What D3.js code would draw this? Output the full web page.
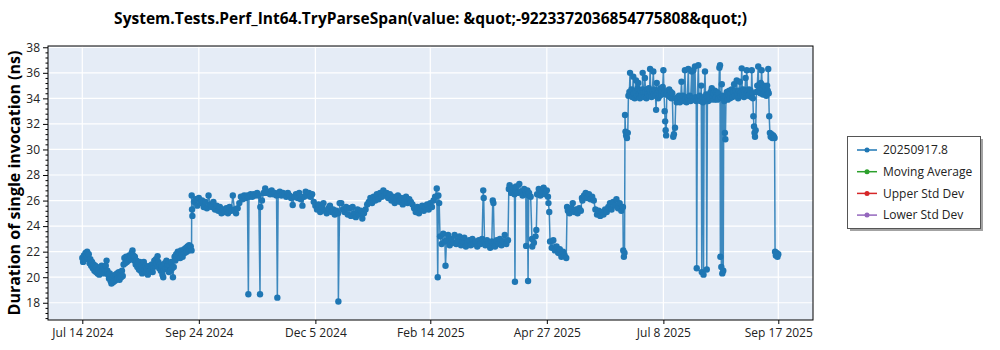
<!DOCTYPE html>
<html><head><meta charset="utf-8">
<script src="https://cdn.jsdelivr.net/npm/d3@7"></script>
<style>body{margin:0;background:#fff} svg{display:block;font-family:"Open Sans","Noto Sans",sans-serif}</style>
</head><body><svg id="c" width="1000" height="350"></svg>
<script>
const chartTitle = "System.Tests.Perf_Int64.TryParseSpan(value: &quot;-9223372036854775808&quot;)";
const yAxisTitle = "Duration of single invocation (ns)";
const baseDate = "2024-07-14";
// run dates as day offsets from baseDate, and measured durations (ns)
const dayOffsets = [
0,0.5,1,1.5,2,2.5,3,3.5,4,4.5,5,5.5,6,6.5,7,7.5,8,8.5,9,9.5,10,10.5,11,11.5,12,12.5,13,13.5,14,14.5,15,15.5,16,16.5,17,17.5,18,18.5,19,19.5,20,20.5,21,21.5,22,22.5,23,23.5,24,24.5,25,25.5,26,26.5,27,27.5,28,28.5,29,29.5,30,30.5,31,31.5,32,32.5,33,33.5,34,34.5,35,35.5,36,36.5,37,37.5,38,38.5,39,39.5,40,40.5,41,41.5,42,42.5,43,43.5,44,44.5,45,45.5,46,46.5,47,47.5,48,48.5,49,49.5,50,50.5,51,51.5,52,52.5,53,53.5,54,54.5,55,55.5,56,56.5,57,57.5,58,58.5,59,59.5,60,60.5,61,61.5,62,62.5,63,63.5,64,64.5,65,65.5,66,66.5,67,67.5,
67.6,67.8,68,69,70,71,72,73,74,75,76,77,78,79,80,81,82,83,84,85,86,87,88,89,90,91,92,93,94,95,96,97,98,99,100,101,102,102.6,103,104,105,106,107,108,109,109.8,110,111,112,113,114,115,116,117,118,119,120,120.5,121,122,123,124,125,126,127,128,129,130,131,132,133,134,135,136,137,138,139,140,141,142,143,144,145,146,147,148,149,150,151,152,153,154,155,156,157,158,158.2,159,160,161,162,163,164,165,166,167,168,169,170,171,172,173,174,175,176,177,178,179,180,181,182,183,184,185,186,187,188,189,190,191,192,193,194,195,196,197,198,199,200,201,202,203,204,205,206,207,208,209,210,211,212,213,214,215,216,217,218,219,219.6,220,220.5,
221,222,223,224,224.4,225,226,227,228,229,230,231,232,233,234,235,236,237,238,239,240,241,242,243,244,245,246,247,247.7,248,248.5,249,250,251,252,253,253.6,254,254.5,255,256,257,258,259,260,261,262,263,
263.5,264,265,266,267,267.3,267.6,268,269,270,271,272,273,274,274.2,274.6,275,275.4,275.8,276,277,277.8,278,279,280,280.5,281,282,283,284,285,286,287,287.7,288,288.5,289,290,291,292,293,294,295,296,297,298,299,299.5,300,301,302,303,304,305,306,307,308,308.7,309,310,311,312,313,314,315,316,317,318,319,320,321,322,323,324,325,326,327,328,329,330,331,332,333,334,334.2,334.6,335,335.3,335.6,336,336.5,337,
337.4,338,338.4,338.8,339.3,339.8,340.4,340.8,341.3,341.8,342.1,342.6,343.1,343.5,344,344.5,345,345.5,346,346.2,346.6,347.1,347.6,348,348.5,349,349.5,350,350.4,350.8,351.2,351.7,352.2,352.8,353.2,353.7,354.1,354.5,354.9,355.3,355.8,356.3,356.8,357.3,357.8,358.2,358.6,359,359.4,359.8,360.1,360.4,360.7,361.1,361.6,362.1,362.6,363.1,363.6,364,364.5,365.1,365.5,366.2,366.7,367.2,367.7,368.2,368.7,369.2,369.7,370.2,370.6,371.1,371.6,372.3,372.8,373.3,373.8,374.4,374.8,375.3,375.8,376.5,376.9,377.5,377.9,378.5,378.9,379.3,379.6,380,380.6,381,381.5,382,382.4,382.7,383.1,383.5,383.8,384.2,384.7,385.1,385.5,385.8,386.2,386.7,387.2,387.7,388.2,388.9,389.3,389.8,390.3,390.8,391.3,391.8,392.3,392.8,393.2,393.6,394,394.2,394.5,394.8,395.1,395.4,395.7,396,396.3,396.6,397,397.3,397.7,398.2,398.7,399.2,399.7,400.2,400.7,401.2,401.7,402.2,402.7,403.2,403.7,404.3,404.7,405.2,405.7,406.2,406.6,407,407.4,407.8,408.3,408.8,409.3,409.8,410.2,410.5,410.9,411.4,411.9,412.4,412.9,413.3,413.6,414,414.3,414.6,415,415.3,415.6,416,416.5,417,417.6,418,418.5,419,419.3,419.7,420.1,420.6,421.1,421.6,422.1,422.6,423.1,423.5,423.8,424.1,424.4,424.8,425.3,425.8,426.3,426.8,427.3,427.7,428,428.5,429,429.5,430
];
const durations = [
21.5,21.2,21.7,21.4,21.9,21.6,22.0,21.5,21.8,21.1,21.4,20.9,21.2,20.7,21.0,20.5,20.9,20.4,20.8,20.3,20.6,20.2,20.7,20.4,20.9,20.5,20.8,20.3,20.6,20.9,21.3,20.5,20.2,19.9,20.3,19.7,19.5,19.9,19.6,20.1,19.7,20.2,19.8,20.3,19.9,20.4,19.8,20.2,20.0,20.5,20.1,21.0,21.5,21.1,21.6,21.2,21.5,21.3,21.7,21.4,21.6,21.9,22.1,21.7,21.3,21.6,21.0,21.3,20.8,21.1,20.6,21.2,20.5,20.9,20.3,20.7,21.2,20.6,20.9,20.4,20.7,20.2,20.8,20.5,20.9,20.6,21.0,20.4,20.8,21.3,20.9,21.4,21.1,21.65,21.2,20.7,21.0,20.5,20.8,20.2,20.0,20.6,21.1,20.7,21.3,20.8,21.0,20.4,20.9,20.5,21.2,20.7,20.0,20.8,21.6,21.3,21.8,21.5,22.0,21.7,21.9,21.5,22.1,21.8,21.6,22.0,22.2,21.9,22.3,22.0,22.4,22.1,22.5,22.2,22.4,22.1,
26.4,25.3,24.8,25.9,26.1,25.6,26.2,25.8,26.0,25.5,25.9,25.4,26.4,25.7,25.5,25.9,25.3,25.6,25.2,25.5,25.0,25.3,25.1,25.4,25.0,25.5,25.2,26.4,25.3,25.0,25.4,25.8,26.3,26.1,26.4,26.2,26.4,18.66,26.3,26.5,26.3,26.5,26.4,26.6,26.4,18.66,25.5,26.0,26.6,26.95,26.6,26.7,26.5,26.8,26.5,26.6,26.4,18.4,26.5,26.7,26.4,26.6,26.5,26.3,26.6,26.4,26.2,25.65,26.3,26.5,26.2,26.6,26.1,25.6,26.3,26.7,26.4,26.6,26.3,26.5,25.9,25.6,25.3,25.7,25.1,25.5,25.8,25.2,25.0,25.4,25.6,25.1,25.3,24.9,25.2,25.0,18.1,25.8,25.8,25.3,25.1,25.5,24.9,25.4,24.8,25.5,25.0,24.7,25.3,24.9,25.2,24.6,25.0,25.3,25.7,25.9,26.2,25.8,26.3,26.0,26.5,26.1,26.6,26.3,26.8,26.4,26.6,26.2,26.5,26.0,26.3,25.8,26.1,26.4,25.9,26.2,25.7,26.0,26.3,25.8,26.1,25.9,25.7,25.4,25.1,25.5,25.0,25.3,25.6,25.2,25.5,25.7,25.3,25.8,25.5,26.0,26.3,26.95,20.0,26.4,25.8,
23.2,22.6,23.4,22.8,20.9,22.9,23.3,22.5,23.0,22.7,23.3,22.6,22.9,23.2,22.5,22.8,23.1,22.4,22.7,22.9,22.5,23.0,22.6,22.8,22.4,22.9,22.6,23.0,26.8,26.2,22.8,22.5,22.9,22.6,22.3,22.8,26.0,25.8,22.7,22.4,22.9,22.6,23.0,22.5,22.8,23.3,22.6,22.9,
26.9,27.2,26.6,27.0,26.5,19.65,26.8,27.1,26.6,27.3,26.7,26.4,26.9,26.6,22.45,26.5,26.8,19.7,26.4,26.6,26.3,23.0,22.4,22.7,23.2,23.7,26.5,26.9,26.4,26.7,27.0,26.5,26.8,26.3,25.8,25.1,22.8,22.3,22.9,22.1,22.4,21.9,22.2,21.6,22.0,21.7,21.5,25.5,25.2,25.0,25.4,25.8,25.1,25.3,25.0,25.4,25.2,26.2,26.0,26.4,26.6,26.2,26.5,26.1,26.3,26.0,25.3,24.9,25.2,24.8,25.1,24.9,25.3,25.1,25.5,25.8,25.3,25.9,25.6,26.1,25.4,25.8,25.2,25.5,22.1,21.6,21.9,32.7,31.4,31.1,30.9,31.3,
34.2,34.5,36.0,34.3,34.7,34.1,35.7,34.4,34.0,34.6,35.4,34.2,34.8,35.2,34.3,34.0,34.6,34.2,34.7,36.0,34.4,34.1,35.6,34.5,34.0,34.7,34.3,34.8,34.2,36.3,34.5,34.1,34.6,36.1,34.3,34.7,34.2,33.1,35.2,34.4,34.0,34.6,34.2,34.8,34.3,34.6,34.9,36.2,34.4,33.0,32.2,31.5,31.1,34.3,34.6,34.2,34.7,34.1,34.5,34.0,34.4,31.0,31.2,31.7,34.0,33.7,34.1,33.8,34.2,33.7,34.0,35.3,33.9,34.2,33.8,36.2,34.0,33.7,34.1,36.3,33.9,34.2,33.8,36.1,34.0,36.2,33.9,36.5,34.1,33.8,20.7,34.0,36.6,33.9,34.2,33.8,35.0,20.4,34.0,33.7,20.2,34.1,36.1,33.9,34.3,20.6,34.0,33.8,34.3,33.9,34.5,34.8,34.0,34.4,33.9,34.6,34.1,34.5,33.9,34.4,34.0,36.4,36.6,21.6,34.1,20.8,35.1,20.3,34.2,20.5,34.0,33.8,31.3,30.8,34.1,34.5,33.9,34.3,34.6,34.0,34.4,34.7,34.1,34.5,35.1,34.2,34.6,35.4,34.3,34.0,34.6,35.3,34.2,34.5,36.35,34.3,34.7,34.1,34.5,35.6,34.3,36.2,34.6,34.2,34.7,34.3,34.6,34.1,36.2,34.4,34.0,32.6,31.8,31.3,31.0,31.5,34.5,35.0,36.5,34.6,35.1,34.4,35.2,36.2,34.8,34.3,35.0,34.5,34.9,34.2,35.0,34.6,36.3,34.4,32.6,31.3,31.0,31.2,30.9,31.1,31.0,30.9,22.0,21.7,21.9,21.6,21.8
];
const xTickDates = ["2024-07-14","2024-09-24","2024-12-05","2025-02-14","2025-04-27","2025-07-08","2025-09-17"];
const xTickLabels = ["Jul 14 2024","Sep 24 2024","Dec 5 2024","Feb 14 2025","Apr 27 2025","Jul 8 2025","Sep 17 2025"];
const yTickValues = [18,20,22,24,26,28,30,32,34,36,38];
const legendLabels = ["20250917.8","Moving Average","Upper Std Dev","Lower Std Dev"];
const legendColors = ["#1f77b4","#2ca02c","#d62728","#9467bd"];

const DAY = 86400000;
const base = Date.parse(baseDate + "T00:00:00Z");
const pts = dayOffsets.map((d, i) => ({t: new Date(base + d * DAY), v: durations[i]}));

const svg = d3.select("#c");
const L = 48, R = 813, T = 46, B = 320;

const x0 = new Date(Date.parse("2024-07-14T00:00:00Z")), x1 = new Date(Date.parse("2025-09-17T00:00:00Z"));
const xs0 = d3.scaleUtc().domain([x0, x1]).range([82.3, 778.3]);
const x = d3.scaleUtc().domain([xs0.invert(L), xs0.invert(R)]).range([L, R]);
const y = d3.scaleLinear().domain([16.65, 38.1]).range([B, T]);

svg.append("rect").attr("x", L).attr("y", T).attr("width", R - L).attr("height", B - T).attr("fill", "#e5ecf6");

const xTicks = xTickDates.map(s => new Date(Date.parse(s + "T00:00:00Z")));
const g = svg.append("g");
g.selectAll(".vg").data(xTicks).join("line")
  .attr("x1", d => x(d)).attr("x2", d => x(d)).attr("y1", T).attr("y2", B)
  .attr("stroke", "#fff").attr("stroke-width", 1.2);
g.selectAll(".hg").data(yTickValues).join("line")
  .attr("x1", L).attr("x2", R).attr("y1", d => y(d)).attr("y2", d => y(d))
  .attr("stroke", "#fff").attr("stroke-width", 1.2);

svg.append("clipPath").attr("id", "clip").append("rect")
  .attr("x", L).attr("y", T).attr("width", R - L).attr("height", B - T);
const plot = svg.append("g").attr("clip-path", "url(#clip)");
plot.append("path").datum(pts)
  .attr("d", d3.line().x(d => x(d.t)).y(d => y(d.v)))
  .attr("fill", "none").attr("stroke", "#1f77b4").attr("stroke-opacity", 0.85).attr("stroke-width", 1.5);
plot.selectAll("circle").data(pts).join("circle")
  .attr("cx", d => x(d.t)).attr("cy", d => y(d.v)).attr("r", 3.2).attr("fill", "#1f77b4");

svg.append("rect").attr("x", L).attr("y", T).attr("width", R - L).attr("height", B - T)
  .attr("fill", "none").attr("stroke", "#000").attr("stroke-width", 1);

// y axis
const yAxis = svg.append("g").attr("transform", `translate(${L},0)`)
  .call(d3.axisLeft(y).tickValues(yTickValues).tickSize(5).tickSizeOuter(0).tickPadding(3));
yAxis.select(".domain").remove();
yAxis.selectAll("text").attr("font-size", 12).attr("fill", "#222").attr("font-family", "'Open Sans',sans-serif");
const minor = d3.range(16.8, 38.01, 0.4).filter(v => Math.abs(v / 2 - Math.round(v / 2)) > 0.01);
svg.append("g").attr("transform", `translate(${L},0)`)
  .call(d3.axisLeft(y).tickValues(minor).tickSize(2.5).tickSizeOuter(0).tickFormat(""))
  .select(".domain").remove();

// x axis
const xAxis = svg.append("g").attr("transform", `translate(0,${B})`)
  .call(d3.axisBottom(x).tickValues(xTicks).tickFormat((d, i) => xTickLabels[i]).tickSize(4).tickSizeOuter(0).tickPadding(4));
xAxis.select(".domain").remove();
xAxis.selectAll("text").attr("font-size", 12).attr("fill", "#222").attr("font-family", "'Open Sans',sans-serif");

// titles
svg.append("text").attr("x", (L + R) / 2).attr("y", 24).attr("text-anchor", "middle")
  .attr("font-size", 15.5).attr("font-weight", "bold").attr("fill", "#000").text(chartTitle);
svg.append("text").attr("transform", `translate(20,${(T + B) / 2}) rotate(-90)`).attr("text-anchor", "middle")
  .attr("font-size", 16).attr("font-weight", "bold").attr("fill", "#000").text(yAxisTitle);

// legend
const lg = svg.append("g");
lg.append("rect").attr("x", 850).attr("y", 139).attr("width", 133).attr("height", 92).attr("fill", "#666").attr("opacity", 0.6);
lg.append("rect").attr("x", 847.5).attr("y", 136.5).attr("width", 133).attr("height", 92).attr("fill", "#fff").attr("stroke", "#555");
const items = lg.selectAll(".it").data(legendLabels).join("g").attr("transform", (d, i) => `translate(0,${150 + i * 21.7})`);
items.append("line").attr("x1", 857).attr("x2", 877).attr("stroke", (d, i) => legendColors[i]).attr("stroke-width", 1.5);
items.append("circle").attr("cx", 867).attr("r", 2.5).attr("fill", (d, i) => legendColors[i]);
items.append("text").attr("x", 883).attr("dy", "0.35em").attr("font-size", 12).attr("fill", "#222").text(d => d);
</script></body></html>
